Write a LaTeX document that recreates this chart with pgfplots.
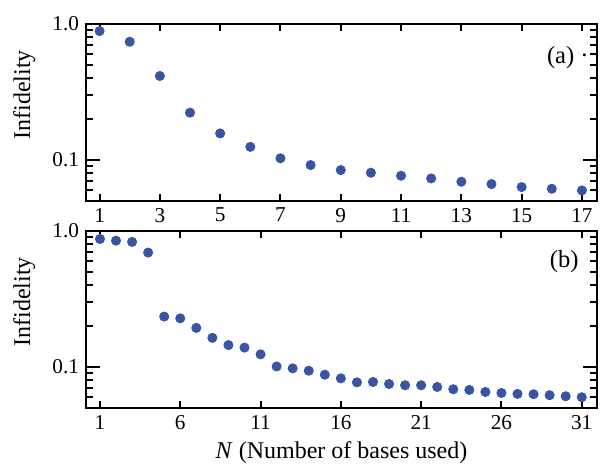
\documentclass[border=0pt]{standalone}
\usepackage{fontspec}
\setmainfont{Liberation Serif}
\usepackage{pgfplots}
\usepackage{pgfplotstable}
\pgfplotsset{compat=1.18}
\definecolor{dotblue}{RGB}{58,84,164}
\pgfplotstableread{
x y
1 0.888
2 0.741
3 0.415
4 0.223
5 0.157
6 0.125
7 0.103
8 0.0919
9 0.0844
10 0.0807
11 0.0767
12 0.0733
13 0.0693
14 0.0666
15 0.0633
16 0.0615
17 0.0598
}\dataA
\pgfplotstableread{
x y
1 0.874
2 0.849
3 0.831
4 0.694
5 0.235
6 0.228
7 0.194
8 0.164
9 0.145
10 0.139
11 0.124
12 0.101
13 0.0978
14 0.094
15 0.0879
16 0.0826
17 0.0772
18 0.0777
19 0.0751
20 0.0735
21 0.0735
22 0.0714
23 0.0687
24 0.0679
25 0.0656
26 0.0645
27 0.0635
28 0.0631
29 0.0621
30 0.0610
31 0.0600
}\dataB
\begin{document}
\begin{tikzpicture}
\path[use as bounding box] (0,0) rectangle (300pt,-232.5pt);
\begin{axis}[at={(43pt,-100.5pt)}, anchor=south west,
  scale only axis, width=255.5pt, height=88.5pt,
  ymode=log, ymin=0.05, ymax=1,
  ytick={0.1,1}, yticklabels={0.1,1.0},
  minor ytick={0.06,0.07,0.08,0.09,0.2,0.3,0.4,0.5,0.6,0.7,0.8,0.9},
  xmin=0.55, xmax=17.5, xtick={1,3,...,17},
  xticklabels={1,3,5,7,9,11,13,15,17},
  tick align=inside,
  major tick length=7pt, minor tick length=3.5pt,
  x tick style={/pgfplots/major tick length=3.75pt},
  axis line style={line width=1.1pt},
  every tick/.style={black, line width=1pt},
  ticklabel style={font=\fontsize{10.6}{12}\selectfont},
  label style={font=\fontsize{12}{14}\selectfont},
  ylabel={Infidelity},
  ylabel style={at={(axis description cs:-0.121,0.6)}, anchor=center},
  clip=false]
\addplot[only marks, mark=*, mark size=2.3pt, mark options={draw=dotblue, fill=dotblue}] table[x=x,y=y] {\dataA};
\node[font=\fontsize{12.3}{14}\selectfont] at (axis description cs:0.943,0.81) {(a) ·};
\end{axis}
\begin{axis}[at={(43pt,-204pt)}, anchor=south west,
  scale only axis, width=255.5pt, height=88.5pt,
  ymode=log, ymin=0.05, ymax=1,
  ytick={0.1,1}, yticklabels={0.1,1.0},
  minor ytick={0.06,0.07,0.08,0.09,0.2,0.3,0.4,0.5,0.6,0.7,0.8,0.9},
  xmin=0.13, xmax=31.95, xtick={1,6,...,31},
  xticklabels={1,6,11,16,21,26,31},
  tick align=inside,
  major tick length=7pt, minor tick length=3.5pt,
  x tick style={/pgfplots/major tick length=3.75pt},
  axis line style={line width=1.1pt},
  every tick/.style={black, line width=1pt},
  ticklabel style={font=\fontsize{10.6}{12}\selectfont},
  label style={font=\fontsize{12}{14}\selectfont},
  ylabel={Infidelity},
  ylabel style={at={(axis description cs:-0.121,0.6)}, anchor=center},
  xlabel={\textit{N} (Number of bases used)},
  xlabel style={at={(axis description cs:0.5,-0.254)}, anchor=center},
  clip=false]
\addplot[only marks, mark=*, mark size=2.3pt, mark options={draw=dotblue, fill=dotblue}] table[x=x,y=y] {\dataB};
\node[font=\fontsize{12.3}{14}\selectfont] at (axis description cs:0.936,0.828) {(b)};
\end{axis}
\end{tikzpicture}
\end{document}
